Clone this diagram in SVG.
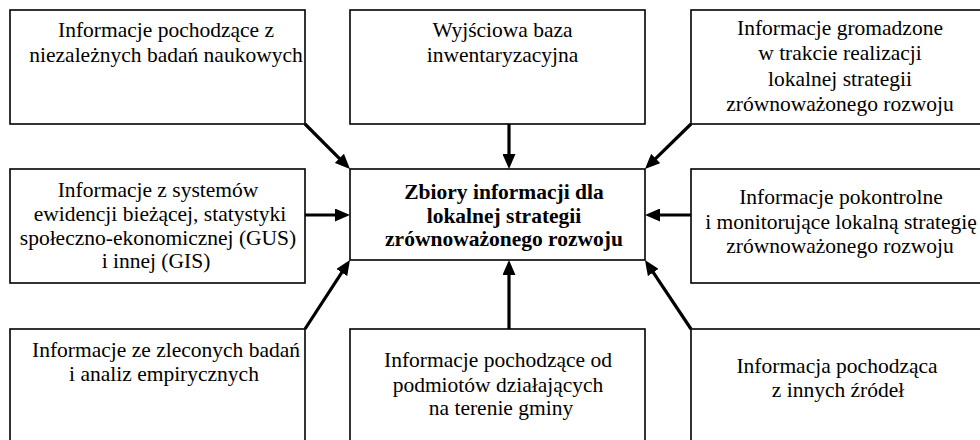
<svg xmlns="http://www.w3.org/2000/svg" width="980" height="440" viewBox="0 0 980 440">
<defs>
<marker id="ah" markerUnits="userSpaceOnUse" markerWidth="15" markerHeight="13" refX="7" refY="6.5" orient="auto" viewBox="0 0 15 13">
<path d="M0,0 L15,6.5 L0,13 z" fill="#000"/>
</marker>
<style>
.box{fill:#fff;stroke:#000;stroke-width:1.6}
text{font-size:21.5px;fill:#000;text-anchor:middle}
.b{font-weight:bold}
.c{stroke:#000;stroke-width:3.2;fill:none;marker-end:url(#ah)}
</style>
</defs>
<rect width="980" height="440" fill="#fff"/>
<g font-family="Liberation Serif, DejaVu Serif, serif">
<g id="n1"><rect class="box" x="10" y="10" width="295" height="114"/>
<text x="166" y="37">Informacje pochodzące z</text>
<text x="166" y="62">niezależnych badań naukowych</text></g>
<g id="n2"><rect class="box" x="350" y="10" width="295" height="114"/>
<text x="502.5" y="37">Wyjściowa baza</text>
<text x="502.5" y="62">inwentaryzacyjna</text></g>
<g id="n3"><rect class="box" x="691" y="10" width="300" height="114"/>
<text x="840" y="35">Informacje gromadzone</text>
<text x="840" y="60">w trakcie realizacji</text>
<text x="840" y="86">lokalnej strategii</text>
<text x="840" y="111">zrównoważonego rozwoju</text></g>
<g id="n4"><rect class="box" x="10" y="169" width="295" height="114"/>
<text x="158" y="197">Informacje z systemów</text>
<text x="160" y="221">ewidencji bieżącej, statystyki</text>
<text x="158" y="245">społeczno-ekonomicznej (GUS)</text>
<text x="156" y="268">i innej (GIS)</text></g>
<g id="center"><rect class="box" x="350" y="169" width="295" height="91"/>
<text class="b" x="504" y="199">Zbiory informacji dla</text>
<text class="b" x="504" y="223">lokalnej strategii</text>
<text class="b" x="504" y="246">zrównoważonego rozwoju</text></g>
<g id="n5"><rect class="box" x="691" y="169" width="300" height="114"/>
<text x="841" y="204">Informacje pokontrolne</text>
<text x="841" y="229">i monitorujące lokalną strategię</text>
<text x="840" y="253">zrównoważonego rozwoju</text></g>
<g id="n6"><rect class="box" x="10" y="329" width="295" height="120"/>
<text x="166" y="357">Informacje ze zleconych badań</text>
<text x="164" y="381">i analiz empirycznych</text></g>
<g id="n7"><rect class="box" x="350" y="329" width="295" height="120"/>
<text x="498" y="367">Informacje pochodzące od</text>
<text x="498" y="392">podmiotów działających</text>
<text x="501" y="415">na terenie gminy</text></g>
<g id="n8"><rect class="box" x="691" y="329" width="300" height="120"/>
<text x="837" y="373">Informacja pochodząca</text>
<text x="838" y="397">z innych źródeł</text></g>
</g>
<g id="connectors">
<line class="c" x1="305" y1="124" x2="344.3" y2="163.3"/>
<line class="c" x1="509" y1="124" x2="509" y2="161"/>
<line class="c" x1="691" y1="124" x2="650.7" y2="163.4"/>
<line class="c" x1="305" y1="215" x2="342" y2="215"/>
<line class="c" x1="691" y1="215" x2="653" y2="215"/>
<line class="c" x1="305" y1="329" x2="345.6" y2="266.7"/>
<line class="c" x1="509" y1="329" x2="509" y2="268"/>
<line class="c" x1="691" y1="329" x2="649.4" y2="266.7"/>
</g>
</svg>
